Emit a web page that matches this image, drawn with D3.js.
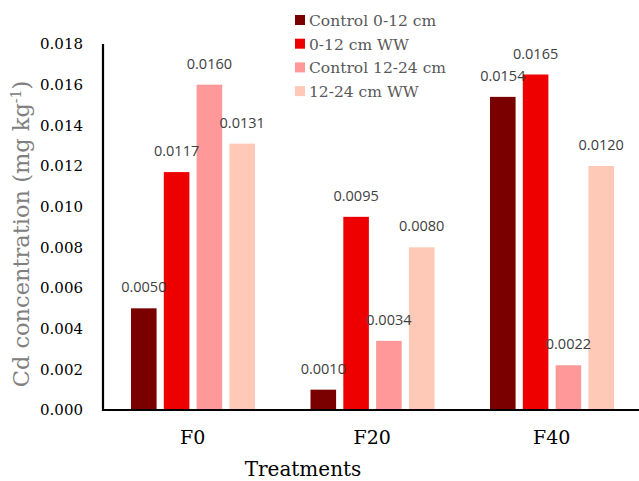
<!DOCTYPE html>
<html><head><meta charset="utf-8">
<script src="https://cdn.jsdelivr.net/npm/d3@7"></script>
<style>body{margin:0;background:#fff}svg{display:block}</style>
</head><body><svg id="c" width="639" height="481"></svg>
<script>
const categories = ["F0", "F20", "F40"];
const seriesNames = ["Control 0-12 cm", "0-12 cm WW", "Control 12-24 cm", "12-24 cm WW"];
const control0_12 = [0.0050, 0.0010, 0.0154];
const ww0_12 = [0.0117, 0.0095, 0.0165];
const control12_24 = [0.0160, 0.0034, 0.0022];
const ww12_24 = [0.0131, 0.0080, 0.0120];
const yTicks = [0, 0.002, 0.004, 0.006, 0.008, 0.010, 0.012, 0.014, 0.016, 0.018];
const colors = ["#7a0000", "#ee0000", "#ff9999", "#ffc9b8"];

(function(){
const series = [control0_12, ww0_12, control12_24, ww12_24];
const svg = d3.select("#c");
const serif = "DejaVu Serif, serif";
const mL = 103, mR = 641.5, mT = 44, mB = 410;
const x = d3.scaleBand().domain(categories).range([mL, mR]);
const inner = d3.scaleBand().domain(d3.range(4)).range([28, 152]).paddingInner(0.22).paddingOuter(0);
const y = d3.scaleLinear().domain([0, 0.018]).range([mB, mT]);

const yAxis = d3.axisLeft(y).tickValues(yTicks).tickFormat(d3.format(".3f")).tickSize(0).tickPadding(20);
const ga = svg.append("g").attr("transform", `translate(${mL},0)`).call(yAxis);
ga.select(".domain").remove();
ga.selectAll("text").attr("font-family", serif).attr("font-size", 15).attr("fill", "#000");

categories.forEach((c, ci) => {
  series.forEach((s, si) => {
    svg.append("rect")
      .attr("x", x(c) + inner(si))
      .attr("y", y(s[ci]))
      .attr("width", inner.bandwidth())
      .attr("height", y(0) - y(s[ci]))
      .attr("fill", colors[si]);
  });
});
categories.forEach((c, ci) => {
  series.forEach((s, si) => {
    svg.append("text")
      .attr("x", x(c) + inner(si) + inner.bandwidth() / 2)
      .attr("y", y(s[ci]) - 16)
      .attr("text-anchor", "middle")
      .attr("font-family", "Open Sans, sans-serif")
      .attr("font-size", 14.5)
      .attr("fill", "#404040")
      .text(d3.format(".4f")(s[ci]));
  });
});

svg.append("line").attr("x1", mL).attr("x2", mL).attr("y1", mT).attr("y2", mB + 1).attr("stroke", "#000").attr("stroke-width", 2.2);
svg.append("line").attr("x1", mL - 1).attr("x2", 639).attr("y1", mB).attr("y2", mB).attr("stroke", "#000").attr("stroke-width", 2.2);

const xAxis = d3.axisBottom(x).tickSize(0).tickPadding(21);
const gx = svg.append("g").attr("transform", `translate(0,${mB})`).call(xAxis);
gx.select(".domain").remove();
gx.selectAll("text").attr("font-family", serif).attr("font-size", 19).attr("fill", "#000");

svg.append("text").attr("x", 303).attr("y", 476).attr("text-anchor", "middle")
  .attr("font-family", serif).attr("font-size", 20).attr("fill", "#000").text("Treatments");
const yt = svg.append("text").attr("transform", "translate(29,234) rotate(-90)").attr("text-anchor", "middle")
  .attr("font-family", serif).attr("font-size", 22.5).attr("fill", "#808080");
yt.append("tspan").text("Cd concentration (mg kg");
yt.append("tspan").attr("baseline-shift", "super").attr("font-size", 14).text("-1");
yt.append("tspan").text(")");

const lg = svg.append("g");
seriesNames.forEach((n, i) => {
  const yy = 20 + i * 23.7;
  lg.append("rect").attr("x", 295).attr("y", yy - 5).attr("width", 10).attr("height", 10).attr("fill", colors[i]);
  lg.append("text").attr("x", 309).attr("y", yy + 6).attr("font-family", serif)
    .attr("font-size", 15.5).attr("fill", "#595959").text(n);
});
})();
</script></body></html>
